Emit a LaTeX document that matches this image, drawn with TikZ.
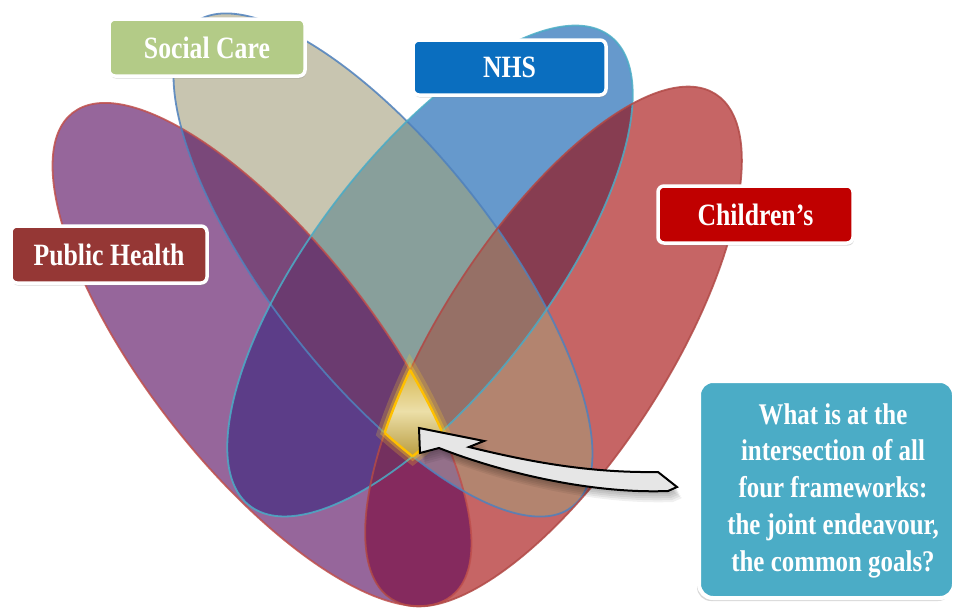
\documentclass[tikz,border=0pt]{standalone}
\usepackage{fontspec}
\newfontfamily\lblfont{Liberation Serif}[FakeStretch=0.83]
\usetikzlibrary{shadows}
\definecolor{cP}{HTML}{96669B}
\definecolor{cS}{HTML}{C8C5B0}
\definecolor{cPS}{HTML}{7A487A}
\definecolor{cN}{HTML}{6699CC}
\definecolor{cPN}{HTML}{5C3D88}
\definecolor{cSN}{HTML}{889F9B}
\definecolor{cPSN}{HTML}{6B3B70}
\definecolor{cC}{HTML}{C66565}
\definecolor{cPC}{HTML}{852A5E}
\definecolor{cSC}{HTML}{B3846F}
\definecolor{cNC}{HTML}{873D51}
\definecolor{cPSC}{HTML}{94708A}
\definecolor{cPNC}{HTML}{74305F}
\definecolor{cSNC}{HTML}{967066}
\definecolor{lnRed}{HTML}{C0504D}
\definecolor{lnBlue}{HTML}{4F81BD}
\definecolor{lnTeal}{HTML}{4BACC6}
\definecolor{goldA}{HTML}{D2AE3C}
\definecolor{goldB}{HTML}{ECDFA8}
\definecolor{glowY}{HTML}{FFD21F}
\definecolor{lineY}{HTML}{FFC000}
\definecolor{fSocial}{HTML}{B3CB87}
\definecolor{fNHS}{HTML}{0A6EBF}
\definecolor{fChild}{HTML}{C00000}
\definecolor{fPH}{HTML}{953735}
\definecolor{fQ}{HTML}{4BACC6}
\definecolor{arrowF}{HTML}{E6E6E6}
\newcommand\pP[1]{(0,0) ellipse [x radius=307+#1, y radius=113.5+#1]}
\newcommand\pS[1]{(0,0) ellipse [x radius=307+#1, y radius=113.5+#1]}
\newcommand\pN[1]{(0,0) ellipse [x radius=296+#1, y radius=117+#1]}
\newcommand\pC[1]{(0,0) ellipse [x radius=300+#1, y radius=114+#1]}
\newcommand\inP[1][0]{\clip[tP]\pP{#1};}
\newcommand\inS[1][0]{\clip[tS]\pS{#1};}
\newcommand\inN[1][0]{\clip[tN]\pN{#1};}
\newcommand\inC[1][0]{\clip[tC]\pC{#1};}
\newcommand\arrowpath{(419,428) -- (484,441) -- (469,447) .. controls (530,462) and (590,473) .. (658,472) -- (677,487) -- (668,491) .. controls (590,494) and (500,472) .. (439,448) -- (420,453) -- cycle}
\begin{document}
\begin{tikzpicture}[x=1pt,y=-1pt,
  tP/.style={shift={(262,354.5)},rotate=-51.9},
  tS/.style={shift={(383,265)},rotate=-51.9},
  tN/.style={shift={(430,271)},rotate=52.5},
  tC/.style={shift={(553.5,346.5)},rotate=57.3},
  outl/.style={line width=1.8pt, opacity=0.85},
  lbl/.style={draw=white, line width=3.5pt, rounded corners=6pt, text=white,
    font=\lblfont\bfseries\fontsize{31}{36}\selectfont, inner sep=0pt,
    drop shadow={opacity=0.3, shadow xshift=1pt, shadow yshift=-2.5pt}},
  qbox/.style={draw=white, line width=4pt, rounded corners=14pt, fill=fQ,
    drop shadow={opacity=0.3, shadow xshift=-2pt, shadow yshift=-3pt}},
  qtext/.style={text=white, align=center, inner sep=0pt,
    font=\lblfont\bfseries\fontsize{30}{36.8}\selectfont}]
\fill[white] (0,0) rectangle (958,608);
\path[use as bounding box] (0,0) rectangle (958,608);
% region fills
\fill[cP,tP]\pP{0};
\fill[cS,tS]\pS{0};
\begin{scope}\inP\fill[cPS,tS]\pS{0};\end{scope}
\fill[cN,tN]\pN{0};
\begin{scope}\inP\fill[cPN,tN]\pN{0};\end{scope}
\begin{scope}\inS\fill[cSN,tN]\pN{0};\end{scope}
\begin{scope}\inP\inS\fill[cPSN,tN]\pN{0};\end{scope}
\fill[cC,tC]\pC{0};
\begin{scope}\inP\fill[cPC,tC]\pC{0};\end{scope}
\begin{scope}\inS\fill[cSC,tC]\pC{0};\end{scope}
\begin{scope}\inN\fill[cNC,tC]\pC{0};\end{scope}
\begin{scope}\inP\inS\fill[cPSC,tC]\pC{0};\end{scope}
\begin{scope}\inP\inN\fill[cPNC,tC]\pC{0};\end{scope}
\begin{scope}\inS\inN\fill[cSNC,tC]\pC{0};\end{scope}
% outlines
\draw[lnRed,outl,tP]\pP{0};
\draw[lnBlue,outl,tS]\pS{0};
\draw[lnTeal,outl,tN]\pN{0};
\draw[lnRed!92!black,outl,tC]\pC{0};
% golden intersection
\begin{scope}\inP[8]\inS[8]\inN[8]\fill[glowY,opacity=.22,tC]\pC{8};\end{scope}
\begin{scope}\inP[4]\inS[4]\inN[4]\fill[glowY,opacity=.35,tC]\pC{4};\end{scope}
\begin{scope}\inP\inS\inN\inC
  \shade[top color=goldA, bottom color=goldA!85!black, middle color=goldB] (372,360) rectangle (455,462);
\end{scope}
\begin{scope}\inS\inN\inC\draw[lineY,line width=2.4pt,tP]\pP{0};\end{scope}
\begin{scope}\inP\inN\inC\draw[lineY,line width=2.4pt,tS]\pS{0};\end{scope}
\begin{scope}\inP\inS\inC\draw[lineY,line width=2.4pt,tN]\pN{0};\end{scope}
\begin{scope}\inP\inS\inN\draw[lineY,line width=2.4pt,tC]\pC{0};\end{scope}
% arrow with soft shadow
\foreach \dx/\dy in {1/3,2/5,3/7,4/9,5/11}{
  \fill[black,opacity=0.06,shift={(\dx,\dy)}] \arrowpath;
}
\filldraw[fill=arrowF, draw=black, line width=2pt, line join=miter] \arrowpath;
% labels
\node[lbl, fill=fSocial, minimum width=196pt, minimum height=57pt] (social) at (207,47.5) {Social Care};
\node[lbl, fill=fNHS, minimum width=193pt, minimum height=55pt] (nhs) at (509.5,67.5) {NHS};
\node[lbl, fill=fChild, minimum width=195pt, minimum height=57pt] (child) at (755.5,214.5) {Children’s};
\node[lbl, fill=fPH, minimum width=196pt, minimum height=57pt] (ph) at (109,254.5) {Public Health};
\node[qbox, minimum width=255pt, minimum height=217pt] (qbox) at (826.5,489.5) {};
\node[qtext] (qtext) at (833,490.6) {What is at the\\intersection of all\\four frameworks:\\the joint endeavour,\\the common goals?};
\end{tikzpicture}
\end{document}
